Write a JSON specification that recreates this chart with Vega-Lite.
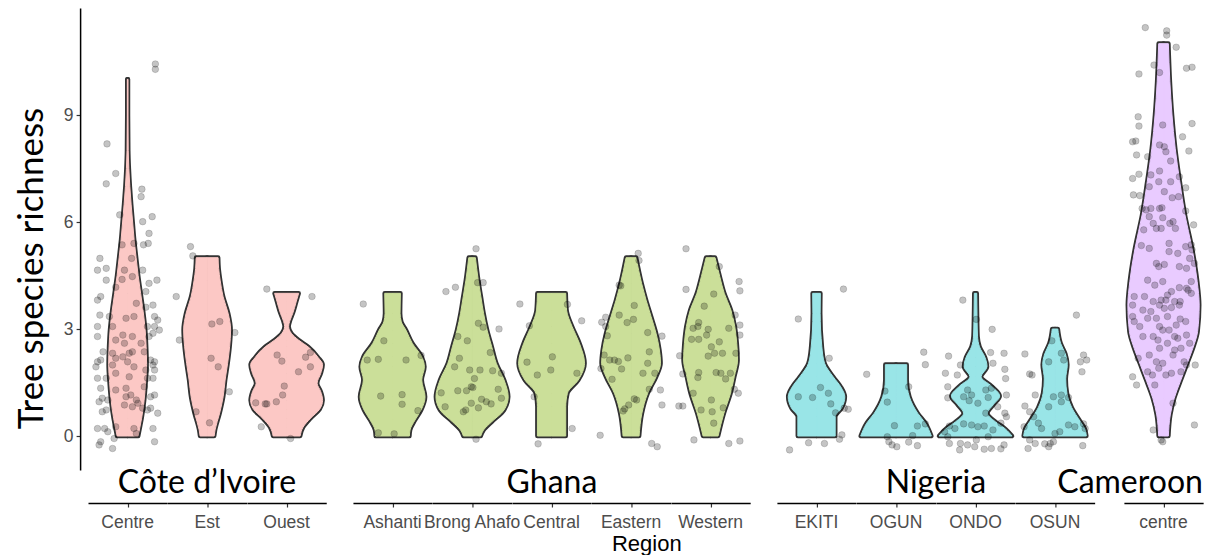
{
  "$schema": "https://vega.github.io/schema/vega-lite/v6.json",
  "padding": {"left": 14, "top": 8, "right": 0, "bottom": 0},
  "background": "white",
  "title": {"text": "Region", "orient": "bottom", "anchor": "middle", "font": "Liberation Sans", "fontSize": 22, "fontWeight": "normal", "color": "black", "dx": 38, "offset": 2},
  "config": {
    "view": {"stroke": null},
    "axis": {"grid": false, "domainColor": "black", "domainWidth": 1.5, "tickColor": "#333333", "tickWidth": 1.2, "tickSize": 4, "labelColor": "#4D4D4D", "labelFont": "Liberation Sans", "labelFontSize": 17.5},
    "header": {"labelOrient": "bottom", "titleOrient": "bottom", "labelFont": "Liberation Sans", "labelFontSize": 17.5, "labelColor": "#4D4D4D", "labelPadding": 6, "titleFont": "Lato", "titleFontSize": 32, "titleFontWeight": "normal", "titleColor": "black", "titlePadding": -74}
  },
  "spacing": 25.95,
  "datasets": {
    "d": [
      {"c":"Côte d’Ivoire","r":"Centre","y":0,"w":0.265},{"c":"Côte d’Ivoire","r":"Centre","y":0.25,"w":0.31},{"c":"Côte d’Ivoire","r":"Centre","y":0.5,"w":0.353},{"c":"Côte d’Ivoire","r":"Centre","y":1,"w":0.416},{"c":"Côte d’Ivoire","r":"Centre","y":1.5,"w":0.454},{"c":"Côte d’Ivoire","r":"Centre","y":2,"w":0.479},{"c":"Côte d’Ivoire","r":"Centre","y":2.5,"w":0.467},{"c":"Côte d’Ivoire","r":"Centre","y":3,"w":0.441},{"c":"Côte d’Ivoire","r":"Centre","y":3.5,"w":0.391},{"c":"Côte d’Ivoire","r":"Centre","y":4,"w":0.328},{"c":"Côte d’Ivoire","r":"Centre","y":4.5,"w":0.265},{"c":"Côte d’Ivoire","r":"Centre","y":5,"w":0.214},{"c":"Côte d’Ivoire","r":"Centre","y":5.5,"w":0.164},{"c":"Côte d’Ivoire","r":"Centre","y":6,"w":0.126},{"c":"Côte d’Ivoire","r":"Centre","y":6.5,"w":0.088},{"c":"Côte d’Ivoire","r":"Centre","y":7,"w":0.055},{"c":"Côte d’Ivoire","r":"Centre","y":7.5,"w":0.03},{"c":"Côte d’Ivoire","r":"Centre","y":8,"w":0.015},{"c":"Côte d’Ivoire","r":"Centre","y":9,"w":0.008},{"c":"Côte d’Ivoire","r":"Centre","y":10,"w":0.008},
      {"c":"Côte d’Ivoire","r":"Est","y":0,"w":0.177},{"c":"Côte d’Ivoire","r":"Est","y":0.17,"w":0.2},{"c":"Côte d’Ivoire","r":"Est","y":0.64,"w":0.315},{"c":"Côte d’Ivoire","r":"Est","y":1.1,"w":0.404},{"c":"Côte d’Ivoire","r":"Est","y":1.57,"w":0.454},{"c":"Côte d’Ivoire","r":"Est","y":2.04,"w":0.517},{"c":"Côte d’Ivoire","r":"Est","y":2.5,"w":0.567},{"c":"Côte d’Ivoire","r":"Est","y":2.97,"w":0.593},{"c":"Côte d’Ivoire","r":"Est","y":3.44,"w":0.53},{"c":"Côte d’Ivoire","r":"Est","y":3.9,"w":0.404},{"c":"Côte d’Ivoire","r":"Est","y":4.37,"w":0.328},{"c":"Côte d’Ivoire","r":"Est","y":4.7,"w":0.29},{"c":"Côte d’Ivoire","r":"Est","y":5,"w":0.277},
      {"c":"Côte d’Ivoire","r":"Ouest","y":0,"w":0.34},{"c":"Côte d’Ivoire","r":"Ouest","y":0.25,"w":0.416},{"c":"Côte d’Ivoire","r":"Ouest","y":0.5,"w":0.605},{"c":"Côte d’Ivoire","r":"Ouest","y":0.75,"w":0.832},{"c":"Côte d’Ivoire","r":"Ouest","y":1,"w":0.908},{"c":"Côte d’Ivoire","r":"Ouest","y":1.25,"w":0.858},{"c":"Côte d’Ivoire","r":"Ouest","y":1.48,"w":0.769},{"c":"Côte d’Ivoire","r":"Ouest","y":1.75,"w":0.858},{"c":"Côte d’Ivoire","r":"Ouest","y":2,"w":0.908},{"c":"Côte d’Ivoire","r":"Ouest","y":2.2,"w":0.794},{"c":"Côte d’Ivoire","r":"Ouest","y":2.5,"w":0.54},{"c":"Côte d’Ivoire","r":"Ouest","y":2.69,"w":0.3},{"c":"Côte d’Ivoire","r":"Ouest","y":2.88,"w":0.118},{"c":"Côte d’Ivoire","r":"Ouest","y":3.07,"w":0.05},{"c":"Côte d’Ivoire","r":"Ouest","y":3.25,"w":0.088},{"c":"Côte d’Ivoire","r":"Ouest","y":3.44,"w":0.155},{"c":"Côte d’Ivoire","r":"Ouest","y":3.76,"w":0.24},{"c":"Côte d’Ivoire","r":"Ouest","y":4,"w":0.303},
      {"c":"Ghana","r":"Ashanti","y":0,"w":0.424},{"c":"Ghana","r":"Ashanti","y":0.17,"w":0.441},{"c":"Ghana","r":"Ashanti","y":0.45,"w":0.567},{"c":"Ghana","r":"Ashanti","y":0.73,"w":0.72},{"c":"Ghana","r":"Ashanti","y":1.1,"w":0.82},{"c":"Ghana","r":"Ashanti","y":1.57,"w":0.736},{"c":"Ghana","r":"Ashanti","y":1.94,"w":0.803},{"c":"Ghana","r":"Ashanti","y":2.22,"w":0.736},{"c":"Ghana","r":"Ashanti","y":2.6,"w":0.496},{"c":"Ghana","r":"Ashanti","y":2.97,"w":0.336},{"c":"Ghana","r":"Ashanti","y":3.2,"w":0.22},{"c":"Ghana","r":"Ashanti","y":3.44,"w":0.189},{"c":"Ghana","r":"Ashanti","y":4,"w":0.198},
      {"c":"Ghana","r":"Brong Ahafo","y":0,"w":0.218},{"c":"Ghana","r":"Brong Ahafo","y":0.17,"w":0.29},{"c":"Ghana","r":"Brong Ahafo","y":0.4,"w":0.496},{"c":"Ghana","r":"Brong Ahafo","y":0.73,"w":0.807},{"c":"Ghana","r":"Brong Ahafo","y":1.1,"w":0.912},{"c":"Ghana","r":"Brong Ahafo","y":1.57,"w":0.807},{"c":"Ghana","r":"Brong Ahafo","y":2.04,"w":0.61},{"c":"Ghana","r":"Brong Ahafo","y":2.5,"w":0.496},{"c":"Ghana","r":"Brong Ahafo","y":2.97,"w":0.378},{"c":"Ghana","r":"Brong Ahafo","y":3.44,"w":0.29},{"c":"Ghana","r":"Brong Ahafo","y":3.9,"w":0.223},{"c":"Ghana","r":"Brong Ahafo","y":4.37,"w":0.155},{"c":"Ghana","r":"Brong Ahafo","y":5,"w":0.084},
      {"c":"Ghana","r":"Central","y":0,"w":0.357},{"c":"Ghana","r":"Central","y":0.82,"w":0.357},{"c":"Ghana","r":"Central","y":1.2,"w":0.399},{"c":"Ghana","r":"Central","y":1.57,"w":0.673},{"c":"Ghana","r":"Central","y":2.04,"w":0.832},{"c":"Ghana","r":"Central","y":2.6,"w":0.702},{"c":"Ghana","r":"Central","y":3.07,"w":0.517},{"c":"Ghana","r":"Central","y":3.53,"w":0.378},{"c":"Ghana","r":"Central","y":4,"w":0.357},
      {"c":"Ghana","r":"Eastern","y":0,"w":0.202},{"c":"Ghana","r":"Eastern","y":0.64,"w":0.273},{"c":"Ghana","r":"Eastern","y":1.2,"w":0.42},{"c":"Ghana","r":"Eastern","y":1.66,"w":0.63},{"c":"Ghana","r":"Eastern","y":2.04,"w":0.744},{"c":"Ghana","r":"Eastern","y":2.41,"w":0.715},{"c":"Ghana","r":"Eastern","y":2.88,"w":0.63},{"c":"Ghana","r":"Eastern","y":3.35,"w":0.504},{"c":"Ghana","r":"Eastern","y":3.81,"w":0.378},{"c":"Ghana","r":"Eastern","y":4.28,"w":0.265},{"c":"Ghana","r":"Eastern","y":5,"w":0.126},
      {"c":"Ghana","r":"Western","y":0,"w":0.189},{"c":"Ghana","r":"Western","y":0.64,"w":0.336},{"c":"Ghana","r":"Western","y":1.2,"w":0.504},{"c":"Ghana","r":"Western","y":1.66,"w":0.597},{"c":"Ghana","r":"Western","y":2.13,"w":0.681},{"c":"Ghana","r":"Western","y":2.6,"w":0.66},{"c":"Ghana","r":"Western","y":3.07,"w":0.61},{"c":"Ghana","r":"Western","y":3.53,"w":0.513},{"c":"Ghana","r":"Western","y":4,"w":0.345},{"c":"Ghana","r":"Western","y":4.47,"w":0.231},{"c":"Ghana","r":"Western","y":5,"w":0.113},
      {"c":"Nigeria","r":"EKITI","y":0,"w":0.471},{"c":"Nigeria","r":"EKITI","y":0.54,"w":0.471},{"c":"Nigeria","r":"EKITI","y":0.78,"w":0.63},{"c":"Nigeria","r":"EKITI","y":1.1,"w":0.714},{"c":"Nigeria","r":"EKITI","y":1.38,"w":0.61},{"c":"Nigeria","r":"EKITI","y":1.66,"w":0.42},{"c":"Nigeria","r":"EKITI","y":2.04,"w":0.202},{"c":"Nigeria","r":"EKITI","y":2.5,"w":0.134},{"c":"Nigeria","r":"EKITI","y":3.44,"w":0.092},{"c":"Nigeria","r":"EKITI","y":4,"w":0.097},
      {"c":"Nigeria","r":"OGUN","y":0,"w":0.891},{"c":"Nigeria","r":"OGUN","y":0.36,"w":0.74},{"c":"Nigeria","r":"OGUN","y":0.64,"w":0.546},{"c":"Nigeria","r":"OGUN","y":1.1,"w":0.336},{"c":"Nigeria","r":"OGUN","y":1.57,"w":0.269},{"c":"Nigeria","r":"OGUN","y":2,"w":0.269},
      {"c":"Nigeria","r":"ONDO","y":0,"w":0.92},{"c":"Nigeria","r":"ONDO","y":0.2,"w":0.75},{"c":"Nigeria","r":"ONDO","y":0.4,"w":0.5},{"c":"Nigeria","r":"ONDO","y":0.64,"w":0.3},{"c":"Nigeria","r":"ONDO","y":0.88,"w":0.45},{"c":"Nigeria","r":"ONDO","y":1.12,"w":0.61},{"c":"Nigeria","r":"ONDO","y":1.4,"w":0.4},{"c":"Nigeria","r":"ONDO","y":1.66,"w":0.14},{"c":"Nigeria","r":"ONDO","y":1.95,"w":0.29},{"c":"Nigeria","r":"ONDO","y":2.2,"w":0.24},{"c":"Nigeria","r":"ONDO","y":2.5,"w":0.1},{"c":"Nigeria","r":"ONDO","y":2.8,"w":0.05},{"c":"Nigeria","r":"ONDO","y":3.2,"w":0.04},{"c":"Nigeria","r":"ONDO","y":4,"w":0.03},
      {"c":"Nigeria","r":"OSUN","y":0,"w":0.79},{"c":"Nigeria","r":"OSUN","y":0.2,"w":0.75},{"c":"Nigeria","r":"OSUN","y":0.4,"w":0.64},{"c":"Nigeria","r":"OSUN","y":0.8,"w":0.42},{"c":"Nigeria","r":"OSUN","y":1.2,"w":0.3},{"c":"Nigeria","r":"OSUN","y":1.6,"w":0.27},{"c":"Nigeria","r":"OSUN","y":2,"w":0.31},{"c":"Nigeria","r":"OSUN","y":2.3,"w":0.26},{"c":"Nigeria","r":"OSUN","y":2.6,"w":0.14},{"c":"Nigeria","r":"OSUN","y":3,"w":0.07},
      {"c":"Cameroon","r":"centre","y":0,"w":0.122},{"c":"Cameroon","r":"centre","y":0.59,"w":0.17},{"c":"Cameroon","r":"centre","y":1.06,"w":0.27},{"c":"Cameroon","r":"centre","y":1.52,"w":0.42},{"c":"Cameroon","r":"centre","y":1.99,"w":0.58},{"c":"Cameroon","r":"centre","y":2.46,"w":0.74},{"c":"Cameroon","r":"centre","y":2.93,"w":0.86},{"c":"Cameroon","r":"centre","y":3.67,"w":0.9},{"c":"Cameroon","r":"centre","y":4.33,"w":0.85},{"c":"Cameroon","r":"centre","y":5.26,"w":0.72},{"c":"Cameroon","r":"centre","y":6.2,"w":0.54},{"c":"Cameroon","r":"centre","y":7.13,"w":0.41},{"c":"Cameroon","r":"centre","y":8.07,"w":0.294},{"c":"Cameroon","r":"centre","y":9,"w":0.214},{"c":"Cameroon","r":"centre","y":9.93,"w":0.16},{"c":"Cameroon","r":"centre","y":11,"w":0.122},

      {"c":"Côte d’Ivoire","r":"Centre","j":0.35,"y":10.43},{"c":"Côte d’Ivoire","r":"Centre","j":0.35,"y":10.28},{"c":"Côte d’Ivoire","r":"Centre","j":-0.26,"y":8.19},{"c":"Côte d’Ivoire","r":"Centre","j":-0.15,"y":7.36},{"c":"Côte d’Ivoire","r":"Centre","j":-0.27,"y":7.07},{"c":"Côte d’Ivoire","r":"Centre","j":0.18,"y":6.92},{"c":"Côte d’Ivoire","r":"Centre","j":0.17,"y":6.71},{"c":"Côte d’Ivoire","r":"Centre","j":-0.1,"y":6.2},{"c":"Côte d’Ivoire","r":"Centre","j":0.31,"y":6.15},{"c":"Côte d’Ivoire","r":"Centre","j":0.19,"y":6.01},{"c":"Côte d’Ivoire","r":"Centre","j":0.27,"y":5.68},{"c":"Côte d’Ivoire","r":"Centre","j":0.08,"y":5.4},{"c":"Côte d’Ivoire","r":"Centre","j":-0.07,"y":5.36},{"c":"Côte d’Ivoire","r":"Centre","j":0.2,"y":5.36},{"c":"Côte d’Ivoire","r":"Centre","j":0.26,"y":5.4},{"c":"Côte d’Ivoire","r":"Centre","j":-0.35,"y":4.98},{"c":"Côte d’Ivoire","r":"Centre","j":0.05,"y":4.98},{"c":"Côte d’Ivoire","r":"Centre","j":-0.38,"y":4.65},{"c":"Côte d’Ivoire","r":"Centre","j":-0.27,"y":4.7},{"c":"Côte d’Ivoire","r":"Centre","j":-0.04,"y":4.65},{"c":"Côte d’Ivoire","r":"Centre","j":0.19,"y":4.65},{"c":"Côte d’Ivoire","r":"Centre","j":-0.27,"y":4.37},{"c":"Côte d’Ivoire","r":"Centre","j":-0.07,"y":4.39},{"c":"Côte d’Ivoire","r":"Centre","j":0.06,"y":4.47},{"c":"Côte d’Ivoire","r":"Centre","j":0.37,"y":4.37},{"c":"Côte d’Ivoire","r":"Centre","j":0.27,"y":4.28},{"c":"Côte d’Ivoire","r":"Centre","j":-0.15,"y":4.17},{"c":"Côte d’Ivoire","r":"Centre","j":0.23,"y":4.05},{"c":"Côte d’Ivoire","r":"Centre","j":-0.38,"y":3.81},{"c":"Côte d’Ivoire","r":"Centre","j":-0.34,"y":3.91},{"c":"Côte d’Ivoire","r":"Centre","j":0.11,"y":3.72},{"c":"Côte d’Ivoire","r":"Centre","j":0.32,"y":3.67},{"c":"Côte d’Ivoire","r":"Centre","j":0.23,"y":3.61},{"c":"Côte d’Ivoire","r":"Centre","j":-0.35,"y":3.39},{"c":"Côte d’Ivoire","r":"Centre","j":-0.23,"y":3.35},{"c":"Côte d’Ivoire","r":"Centre","j":-0.02,"y":3.3},{"c":"Côte d’Ivoire","r":"Centre","j":0.08,"y":3.35},{"c":"Côte d’Ivoire","r":"Centre","j":0.34,"y":3.35},{"c":"Côte d’Ivoire","r":"Centre","j":0.38,"y":3.25},{"c":"Côte d’Ivoire","r":"Centre","j":-0.19,"y":3.07},{"c":"Côte d’Ivoire","r":"Centre","j":0.25,"y":3.07},{"c":"Côte d’Ivoire","r":"Centre","j":0.4,"y":2.97},{"c":"Côte d’Ivoire","r":"Centre","j":0.34,"y":3.07},{"c":"Côte d’Ivoire","r":"Centre","j":-0.38,"y":3.07},{"c":"Côte d’Ivoire","r":"Centre","j":-0.38,"y":2.79},{"c":"Côte d’Ivoire","r":"Centre","j":-0.06,"y":2.83},{"c":"Côte d’Ivoire","r":"Centre","j":0.06,"y":2.79},{"c":"Côte d’Ivoire","r":"Centre","j":0.27,"y":2.79},{"c":"Côte d’Ivoire","r":"Centre","j":0.32,"y":2.88},{"c":"Côte d’Ivoire","r":"Centre","j":-0.04,"y":2.6},{"c":"Côte d’Ivoire","r":"Centre","j":-0.15,"y":2.69},{"c":"Côte d’Ivoire","r":"Centre","j":0.17,"y":2.6},{"c":"Côte d’Ivoire","r":"Centre","j":-0.31,"y":2.36},{"c":"Côte d’Ivoire","r":"Centre","j":-0.19,"y":2.32},{"c":"Côte d’Ivoire","r":"Centre","j":0.02,"y":2.32},{"c":"Côte d’Ivoire","r":"Centre","j":0.06,"y":2.36},{"c":"Côte d’Ivoire","r":"Centre","j":0.21,"y":2.36},{"c":"Côte d’Ivoire","r":"Centre","j":-0.38,"y":2.08},{"c":"Côte d’Ivoire","r":"Centre","j":-0.34,"y":2.13},{"c":"Côte d’Ivoire","r":"Centre","j":-0.06,"y":2.22},{"c":"Côte d’Ivoire","r":"Centre","j":-0.15,"y":2.18},{"c":"Côte d’Ivoire","r":"Centre","j":0,"y":2.08},{"c":"Côte d’Ivoire","r":"Centre","j":0.29,"y":2.13},{"c":"Côte d’Ivoire","r":"Centre","j":0.34,"y":2.08},{"c":"Côte d’Ivoire","r":"Centre","j":-0.4,"y":1.94},{"c":"Côte d’Ivoire","r":"Centre","j":-0.19,"y":1.99},{"c":"Côte d’Ivoire","r":"Centre","j":0.08,"y":1.94},{"c":"Côte d’Ivoire","r":"Centre","j":0.32,"y":1.99},{"c":"Côte d’Ivoire","r":"Centre","j":-0.15,"y":1.76},{"c":"Côte d’Ivoire","r":"Centre","j":0.02,"y":1.66},{"c":"Côte d’Ivoire","r":"Centre","j":0.23,"y":1.85},{"c":"Côte d’Ivoire","r":"Centre","j":0.34,"y":1.85},{"c":"Côte d’Ivoire","r":"Centre","j":-0.38,"y":1.62},{"c":"Côte d’Ivoire","r":"Centre","j":-0.27,"y":1.62},{"c":"Côte d’Ivoire","r":"Centre","j":0.25,"y":1.62},{"c":"Côte d’Ivoire","r":"Centre","j":0.32,"y":1.62},{"c":"Côte d’Ivoire","r":"Centre","j":-0.34,"y":1.34},{"c":"Côte d’Ivoire","r":"Centre","j":-0.15,"y":1.29},{"c":"Côte d’Ivoire","r":"Centre","j":-0.02,"y":1.34},{"c":"Côte d’Ivoire","r":"Centre","j":0.21,"y":1.38},{"c":"Côte d’Ivoire","r":"Centre","j":-0.32,"y":1.06},{"c":"Côte d’Ivoire","r":"Centre","j":-0.02,"y":1.1},{"c":"Côte d’Ivoire","r":"Centre","j":0.04,"y":1.15},{"c":"Côte d’Ivoire","r":"Centre","j":0.11,"y":1.01},{"c":"Côte d’Ivoire","r":"Centre","j":0.29,"y":1.1},{"c":"Côte d’Ivoire","r":"Centre","j":0.34,"y":1.15},{"c":"Côte d’Ivoire","r":"Centre","j":-0.36,"y":0.96},{"c":"Côte d’Ivoire","r":"Centre","j":-0.25,"y":1.01},{"c":"Côte d’Ivoire","r":"Centre","j":0.13,"y":0.92},{"c":"Côte d’Ivoire","r":"Centre","j":-0.27,"y":0.73},{"c":"Côte d’Ivoire","r":"Centre","j":-0.04,"y":0.87},{"c":"Côte d’Ivoire","r":"Centre","j":0.06,"y":0.82},{"c":"Côte d’Ivoire","r":"Centre","j":0.19,"y":0.78},{"c":"Côte d’Ivoire","r":"Centre","j":0.29,"y":0.78},{"c":"Côte d’Ivoire","r":"Centre","j":0.25,"y":0.73},{"c":"Côte d’Ivoire","r":"Centre","j":0.38,"y":0.64},{"c":"Côte d’Ivoire","r":"Centre","j":-0.32,"y":0.68},{"c":"Côte d’Ivoire","r":"Centre","j":-0.38,"y":0.21},{"c":"Côte d’Ivoire","r":"Centre","j":-0.29,"y":0.21},{"c":"Côte d’Ivoire","r":"Centre","j":-0.15,"y":0.26},{"c":"Côte d’Ivoire","r":"Centre","j":0.08,"y":0.21},{"c":"Côte d’Ivoire","r":"Centre","j":0.32,"y":0.21},{"c":"Côte d’Ivoire","r":"Centre","j":-0.25,"y":0.12},{"c":"Côte d’Ivoire","r":"Centre","j":-0.17,"y":-0.07},{"c":"Côte d’Ivoire","r":"Centre","j":0.11,"y":0.07},{"c":"Côte d’Ivoire","r":"Centre","j":-0.36,"y":-0.25},{"c":"Côte d’Ivoire","r":"Centre","j":-0.34,"y":-0.16},{"c":"Côte d’Ivoire","r":"Centre","j":-0.19,"y":-0.35},{"c":"Côte d’Ivoire","r":"Centre","j":0.34,"y":-0.16},
      {"c":"Côte d’Ivoire","r":"Est","j":-0.21,"y":5.31},{"c":"Côte d’Ivoire","r":"Est","j":-0.18,"y":5.05},{"c":"Côte d’Ivoire","r":"Est","j":-0.39,"y":3.91},{"c":"Côte d’Ivoire","r":"Est","j":0.06,"y":3.14},{"c":"Côte d’Ivoire","r":"Est","j":0.16,"y":3.21},{"c":"Côte d’Ivoire","r":"Est","j":0.35,"y":2.9},{"c":"Côte d’Ivoire","r":"Est","j":-0.35,"y":2.69},{"c":"Côte d’Ivoire","r":"Est","j":0.05,"y":2.18},{"c":"Côte d’Ivoire","r":"Est","j":0.14,"y":1.94},{"c":"Côte d’Ivoire","r":"Est","j":0.28,"y":1.24},{"c":"Côte d’Ivoire","r":"Est","j":-0.14,"y":0.68},{"c":"Côte d’Ivoire","r":"Est","j":0.03,"y":0.37},
      {"c":"Côte d’Ivoire","r":"Ouest","j":-0.25,"y":4.12},{"c":"Côte d’Ivoire","r":"Ouest","j":0.32,"y":3.91},{"c":"Côte d’Ivoire","r":"Ouest","j":-0.12,"y":2.27},{"c":"Côte d’Ivoire","r":"Ouest","j":-0.06,"y":2.1},{"c":"Côte d’Ivoire","r":"Ouest","j":0.24,"y":2.21},{"c":"Côte d’Ivoire","r":"Ouest","j":0.3,"y":2.34},{"c":"Côte d’Ivoire","r":"Ouest","j":0.3,"y":1.94},{"c":"Côte d’Ivoire","r":"Ouest","j":0.15,"y":1.8},{"c":"Côte d’Ivoire","r":"Ouest","j":-0.03,"y":1.4},{"c":"Côte d’Ivoire","r":"Ouest","j":-0.05,"y":1.15},{"c":"Côte d’Ivoire","r":"Ouest","j":-0.13,"y":0.96},{"c":"Côte d’Ivoire","r":"Ouest","j":-0.39,"y":0.93},{"c":"Côte d’Ivoire","r":"Ouest","j":-0.27,"y":0.9},{"c":"Côte d’Ivoire","r":"Ouest","j":-0.25,"y":0.9},{"c":"Côte d’Ivoire","r":"Ouest","j":-0.32,"y":0.26},{"c":"Côte d’Ivoire","r":"Ouest","j":0.05,"y":-0.07},
      {"c":"Ghana","r":"Ashanti","j":-0.37,"y":3.7},{"c":"Ghana","r":"Ashanti","j":-0.11,"y":2.67},{"c":"Ghana","r":"Ashanti","j":-0.32,"y":2.13},{"c":"Ghana","r":"Ashanti","j":-0.18,"y":2.15},{"c":"Ghana","r":"Ashanti","j":0.17,"y":2.13},{"c":"Ghana","r":"Ashanti","j":0.36,"y":2.26},{"c":"Ghana","r":"Ashanti","j":-0.15,"y":1.12},{"c":"Ghana","r":"Ashanti","j":0.12,"y":1.16},{"c":"Ghana","r":"Ashanti","j":0.12,"y":0.89},{"c":"Ghana","r":"Ashanti","j":0.32,"y":0.71},{"c":"Ghana","r":"Ashanti","j":-0.18,"y":0.09},{"c":"Ghana","r":"Ashanti","j":0.02,"y":0.06},
      {"c":"Ghana","r":"Brong Ahafo","j":0.05,"y":5.25},{"c":"Ghana","r":"Brong Ahafo","j":-0.33,"y":4.05},{"c":"Ghana","r":"Brong Ahafo","j":-0.21,"y":4.17},{"c":"Ghana","r":"Brong Ahafo","j":0.07,"y":4.3},{"c":"Ghana","r":"Brong Ahafo","j":0.14,"y":4.3},{"c":"Ghana","r":"Brong Ahafo","j":0.34,"y":3.0},{"c":"Ghana","r":"Brong Ahafo","j":0.08,"y":3.16},{"c":"Ghana","r":"Brong Ahafo","j":0.14,"y":3.05},{"c":"Ghana","r":"Brong Ahafo","j":-0.18,"y":2.79},{"c":"Ghana","r":"Brong Ahafo","j":-0.06,"y":2.67},{"c":"Ghana","r":"Brong Ahafo","j":0.23,"y":2.34},{"c":"Ghana","r":"Brong Ahafo","j":-0.16,"y":2.18},{"c":"Ghana","r":"Brong Ahafo","j":-0.22,"y":1.94},{"c":"Ghana","r":"Brong Ahafo","j":-0.03,"y":1.85},{"c":"Ghana","r":"Brong Ahafo","j":0.1,"y":1.85},{"c":"Ghana","r":"Brong Ahafo","j":0.03,"y":1.61},{"c":"Ghana","r":"Brong Ahafo","j":0.26,"y":1.83},{"c":"Ghana","r":"Brong Ahafo","j":0.37,"y":1.76},{"c":"Ghana","r":"Brong Ahafo","j":-0.01,"y":1.38},{"c":"Ghana","r":"Brong Ahafo","j":0.01,"y":1.36},{"c":"Ghana","r":"Brong Ahafo","j":-0.18,"y":1.27},{"c":"Ghana","r":"Brong Ahafo","j":-0.07,"y":1.27},{"c":"Ghana","r":"Brong Ahafo","j":-0.39,"y":1.21},{"c":"Ghana","r":"Brong Ahafo","j":0.33,"y":1.31},{"c":"Ghana","r":"Brong Ahafo","j":0.12,"y":1.03},{"c":"Ghana","r":"Brong Ahafo","j":-0.01,"y":0.92},{"c":"Ghana","r":"Brong Ahafo","j":0.18,"y":0.96},{"c":"Ghana","r":"Brong Ahafo","j":0.24,"y":0.9},{"c":"Ghana","r":"Brong Ahafo","j":0.08,"y":0.79},{"c":"Ghana","r":"Brong Ahafo","j":-0.34,"y":0.82},{"c":"Ghana","r":"Brong Ahafo","j":-0.11,"y":0.68},{"c":"Ghana","r":"Brong Ahafo","j":-0.08,"y":0.73},{"c":"Ghana","r":"Brong Ahafo","j":0.37,"y":1.06},{"c":"Ghana","r":"Brong Ahafo","j":0.05,"y":-0.09},
      {"c":"Ghana","r":"Central","j":-0.4,"y":3.7},{"c":"Ghana","r":"Central","j":0.2,"y":3.69},{"c":"Ghana","r":"Central","j":0.38,"y":3.23},{"c":"Ghana","r":"Central","j":-0.28,"y":3.09},{"c":"Ghana","r":"Central","j":0.01,"y":2.22},{"c":"Ghana","r":"Central","j":-0.31,"y":2.07},{"c":"Ghana","r":"Central","j":-0.01,"y":1.85},{"c":"Ghana","r":"Central","j":-0.18,"y":1.71},{"c":"Ghana","r":"Central","j":0.32,"y":1.76},{"c":"Ghana","r":"Central","j":-0.22,"y":1.1},{"c":"Ghana","r":"Central","j":0.26,"y":0.21},{"c":"Ghana","r":"Central","j":-0.17,"y":-0.22},
      {"c":"Ghana","r":"Eastern","j":0.09,"y":5.12},{"c":"Ghana","r":"Eastern","j":0.1,"y":4.92},{"c":"Ghana","r":"Eastern","j":-0.15,"y":4.23},{"c":"Ghana","r":"Eastern","j":-0.13,"y":4.21},{"c":"Ghana","r":"Eastern","j":0.04,"y":3.66},{"c":"Ghana","r":"Eastern","j":-0.15,"y":3.39},{"c":"Ghana","r":"Eastern","j":-0.37,"y":3.19},{"c":"Ghana","r":"Eastern","j":-0.32,"y":3.33},{"c":"Ghana","r":"Eastern","j":-0.32,"y":3.07},{"c":"Ghana","r":"Eastern","j":-0.05,"y":3.18},{"c":"Ghana","r":"Eastern","j":0.03,"y":3.27},{"c":"Ghana","r":"Eastern","j":-0.3,"y":2.81},{"c":"Ghana","r":"Eastern","j":0.39,"y":2.8},{"c":"Ghana","r":"Eastern","j":0.21,"y":2.9},{"c":"Ghana","r":"Eastern","j":0.23,"y":2.36},{"c":"Ghana","r":"Eastern","j":0.21,"y":2.04},{"c":"Ghana","r":"Eastern","j":-0.34,"y":2.27},{"c":"Ghana","r":"Eastern","j":-0.27,"y":2.13},{"c":"Ghana","r":"Eastern","j":-0.21,"y":2.13},{"c":"Ghana","r":"Eastern","j":-0.16,"y":2.09},{"c":"Ghana","r":"Eastern","j":-0.04,"y":2.19},{"c":"Ghana","r":"Eastern","j":-0.38,"y":1.89},{"c":"Ghana","r":"Eastern","j":-0.12,"y":1.88},{"c":"Ghana","r":"Eastern","j":0.15,"y":1.76},{"c":"Ghana","r":"Eastern","j":0.3,"y":1.76},{"c":"Ghana","r":"Eastern","j":-0.24,"y":1.59},{"c":"Ghana","r":"Eastern","j":0.23,"y":1.31},{"c":"Ghana","r":"Eastern","j":0.37,"y":1.29},{"c":"Ghana","r":"Eastern","j":0.04,"y":1.04},{"c":"Ghana","r":"Eastern","j":0.07,"y":1.01},{"c":"Ghana","r":"Eastern","j":-0.03,"y":0.87},{"c":"Ghana","r":"Eastern","j":-0.08,"y":0.76},{"c":"Ghana","r":"Eastern","j":-0.1,"y":0.7},{"c":"Ghana","r":"Eastern","j":0.39,"y":0.87},{"c":"Ghana","r":"Eastern","j":-0.39,"y":0.02},{"c":"Ghana","r":"Eastern","j":0.26,"y":-0.21},{"c":"Ghana","r":"Eastern","j":0.33,"y":-0.3},
      {"c":"Ghana","r":"Western","j":-0.31,"y":5.25},{"c":"Ghana","r":"Western","j":0.11,"y":4.75},{"c":"Ghana","r":"Western","j":0.36,"y":4.33},{"c":"Ghana","r":"Western","j":0.37,"y":4.07},{"c":"Ghana","r":"Western","j":-0.31,"y":4.11},{"c":"Ghana","r":"Western","j":0.04,"y":3.98},{"c":"Ghana","r":"Western","j":-0.08,"y":3.64},{"c":"Ghana","r":"Western","j":0.31,"y":3.39},{"c":"Ghana","r":"Western","j":-0.15,"y":3.18},{"c":"Ghana","r":"Western","j":-0.22,"y":3.02},{"c":"Ghana","r":"Western","j":-0.16,"y":3.07},{"c":"Ghana","r":"Western","j":-0.03,"y":2.99},{"c":"Ghana","r":"Western","j":-0.05,"y":2.83},{"c":"Ghana","r":"Western","j":0.23,"y":3.02},{"c":"Ghana","r":"Western","j":0.37,"y":3.11},{"c":"Ghana","r":"Western","j":0.37,"y":2.83},{"c":"Ghana","r":"Western","j":-0.24,"y":2.71},{"c":"Ghana","r":"Western","j":-0.15,"y":2.71},{"c":"Ghana","r":"Western","j":0.11,"y":2.64},{"c":"Ghana","r":"Western","j":0.01,"y":2.5},{"c":"Ghana","r":"Western","j":-0.39,"y":2.25},{"c":"Ghana","r":"Western","j":-0.03,"y":2.24},{"c":"Ghana","r":"Western","j":0.05,"y":2.32},{"c":"Ghana","r":"Western","j":0.15,"y":2.32},{"c":"Ghana","r":"Western","j":0.32,"y":2.32},{"c":"Ghana","r":"Western","j":-0.35,"y":1.74},{"c":"Ghana","r":"Western","j":-0.15,"y":1.78},{"c":"Ghana","r":"Western","j":-0.16,"y":1.64},{"c":"Ghana","r":"Western","j":0.07,"y":1.78},{"c":"Ghana","r":"Western","j":0.13,"y":1.76},{"c":"Ghana","r":"Western","j":0.25,"y":1.76},{"c":"Ghana","r":"Western","j":0.19,"y":1.6},{"c":"Ghana","r":"Western","j":0.3,"y":1.31},{"c":"Ghana","r":"Western","j":0.35,"y":1.2},{"c":"Ghana","r":"Western","j":-0.4,"y":0.84},{"c":"Ghana","r":"Western","j":-0.35,"y":0.84},{"c":"Ghana","r":"Western","j":-0.22,"y":1.2},{"c":"Ghana","r":"Western","j":0.01,"y":1.01},{"c":"Ghana","r":"Western","j":0.16,"y":0.79},{"c":"Ghana","r":"Western","j":-0.12,"y":0.73},{"c":"Ghana","r":"Western","j":0.02,"y":0.68},{"c":"Ghana","r":"Western","j":0.04,"y":0.36},{"c":"Ghana","r":"Western","j":-0.21,"y":-0.11},{"c":"Ghana","r":"Western","j":0.23,"y":-0.21},{"c":"Ghana","r":"Western","j":0.37,"y":-0.14},
      {"c":"Nigeria","r":"EKITI","j":0.34,"y":4.12},{"c":"Nigeria","r":"EKITI","j":-0.23,"y":3.28},{"c":"Nigeria","r":"EKITI","j":0.16,"y":2.18},{"c":"Nigeria","r":"EKITI","j":0.05,"y":1.36},{"c":"Nigeria","r":"EKITI","j":0.15,"y":1.2},{"c":"Nigeria","r":"EKITI","j":-0.23,"y":1.1},{"c":"Nigeria","r":"EKITI","j":-0.05,"y":1.08},{"c":"Nigeria","r":"EKITI","j":0.18,"y":0.9},{"c":"Nigeria","r":"EKITI","j":0.24,"y":0.65},{"c":"Nigeria","r":"EKITI","j":0.35,"y":0.78},{"c":"Nigeria","r":"EKITI","j":0.4,"y":0.75},{"c":"Nigeria","r":"EKITI","j":0.32,"y":0.03},{"c":"Nigeria","r":"EKITI","j":0.29,"y":-0.09},{"c":"Nigeria","r":"EKITI","j":-0.1,"y":-0.19},{"c":"Nigeria","r":"EKITI","j":0.1,"y":-0.21},{"c":"Nigeria","r":"EKITI","j":-0.34,"y":-0.39},
      {"c":"Nigeria","r":"OGUN","j":0.35,"y":2.35},{"c":"Nigeria","r":"OGUN","j":0.37,"y":2.0},{"c":"Nigeria","r":"OGUN","j":-0.37,"y":1.73},{"c":"Nigeria","r":"OGUN","j":0.16,"y":1.38},{"c":"Nigeria","r":"OGUN","j":-0.14,"y":1.26},{"c":"Nigeria","r":"OGUN","j":-0.11,"y":0.95},{"c":"Nigeria","r":"OGUN","j":-0.02,"y":0.29},{"c":"Nigeria","r":"OGUN","j":0.27,"y":0.28},{"c":"Nigeria","r":"OGUN","j":0.37,"y":0.34},{"c":"Nigeria","r":"OGUN","j":-0.11,"y":-0.02},{"c":"Nigeria","r":"OGUN","j":-0.09,"y":-0.16},{"c":"Nigeria","r":"OGUN","j":0.01,"y":-0.3},{"c":"Nigeria","r":"OGUN","j":-0.05,"y":-0.25},{"c":"Nigeria","r":"OGUN","j":0.21,"y":0.01},{"c":"Nigeria","r":"OGUN","j":0.16,"y":-0.17},{"c":"Nigeria","r":"OGUN","j":0.27,"y":-0.27},
      {"c":"Nigeria","r":"ONDO","j":-0.16,"y":3.81},{"c":"Nigeria","r":"ONDO","j":0.01,"y":3.27},{"c":"Nigeria","r":"ONDO","j":0.21,"y":2.99},{"c":"Nigeria","r":"ONDO","j":-0.34,"y":2.24},{"c":"Nigeria","r":"ONDO","j":-0.19,"y":1.99},{"c":"Nigeria","r":"ONDO","j":0.19,"y":2.34},{"c":"Nigeria","r":"ONDO","j":0.22,"y":2.04},{"c":"Nigeria","r":"ONDO","j":0.36,"y":2.32},{"c":"Nigeria","r":"ONDO","j":0.37,"y":1.87},{"c":"Nigeria","r":"ONDO","j":0.38,"y":1.61},{"c":"Nigeria","r":"ONDO","j":-0.38,"y":1.76},{"c":"Nigeria","r":"ONDO","j":-0.23,"y":1.71},{"c":"Nigeria","r":"ONDO","j":-0.35,"y":1.38},{"c":"Nigeria","r":"ONDO","j":-0.35,"y":1.07},{"c":"Nigeria","r":"ONDO","j":-0.1,"y":1.29},{"c":"Nigeria","r":"ONDO","j":-0.05,"y":1.15},{"c":"Nigeria","r":"ONDO","j":-0.08,"y":0.99},{"c":"Nigeria","r":"ONDO","j":-0.15,"y":1.1},{"c":"Nigeria","r":"ONDO","j":0.03,"y":0.92},{"c":"Nigeria","r":"ONDO","j":0.13,"y":1.29},{"c":"Nigeria","r":"ONDO","j":0.16,"y":1.08},{"c":"Nigeria","r":"ONDO","j":0.2,"y":1.34},{"c":"Nigeria","r":"ONDO","j":0.39,"y":1.15},{"c":"Nigeria","r":"ONDO","j":0.28,"y":0.82},{"c":"Nigeria","r":"ONDO","j":0.37,"y":0.64},{"c":"Nigeria","r":"ONDO","j":0.39,"y":0.54},{"c":"Nigeria","r":"ONDO","j":0.13,"y":0.64},{"c":"Nigeria","r":"ONDO","j":-0.33,"y":0.28},{"c":"Nigeria","r":"ONDO","j":-0.26,"y":0.21},{"c":"Nigeria","r":"ONDO","j":-0.15,"y":0.34},{"c":"Nigeria","r":"ONDO","j":-0.05,"y":0.31},{"c":"Nigeria","r":"ONDO","j":0.03,"y":0.26},{"c":"Nigeria","r":"ONDO","j":0.11,"y":0.28},{"c":"Nigeria","r":"ONDO","j":0.22,"y":0.17},{"c":"Nigeria","r":"ONDO","j":0.32,"y":0.36},{"c":"Nigeria","r":"ONDO","j":-0.39,"y":0.12},{"c":"Nigeria","r":"ONDO","j":-0.35,"y":-0.02},{"c":"Nigeria","r":"ONDO","j":-0.19,"y":-0.21},{"c":"Nigeria","r":"ONDO","j":-0.1,"y":-0.25},{"c":"Nigeria","r":"ONDO","j":-0.01,"y":-0.3},{"c":"Nigeria","r":"ONDO","j":0.11,"y":-0.37},{"c":"Nigeria","r":"ONDO","j":0.2,"y":-0.35},{"c":"Nigeria","r":"ONDO","j":0.32,"y":-0.36},{"c":"Nigeria","r":"ONDO","j":0.36,"y":-0.25},{"c":"Nigeria","r":"ONDO","j":-0.33,"y":-0.21},{"c":"Nigeria","r":"ONDO","j":-0.2,"y":-0.39},{"c":"Nigeria","r":"ONDO","j":0.01,"y":-0.11},{"c":"Nigeria","r":"ONDO","j":0.16,"y":-0.02},
      {"c":"Nigeria","r":"OSUN","j":0.27,"y":3.39},{"c":"Nigeria","r":"OSUN","j":-0.04,"y":2.67},{"c":"Nigeria","r":"OSUN","j":-0.38,"y":2.3},{"c":"Nigeria","r":"OSUN","j":0.08,"y":2.32},{"c":"Nigeria","r":"OSUN","j":0.36,"y":2.27},{"c":"Nigeria","r":"OSUN","j":0.4,"y":2.13},{"c":"Nigeria","r":"OSUN","j":0.32,"y":2.08},{"c":"Nigeria","r":"OSUN","j":0.34,"y":1.8},{"c":"Nigeria","r":"OSUN","j":-0.32,"y":1.74},{"c":"Nigeria","r":"OSUN","j":-0.29,"y":1.71},{"c":"Nigeria","r":"OSUN","j":-0.08,"y":2.08},{"c":"Nigeria","r":"OSUN","j":0.11,"y":2.13},{"c":"Nigeria","r":"OSUN","j":-0.25,"y":1.15},{"c":"Nigeria","r":"OSUN","j":-0.02,"y":1.1},{"c":"Nigeria","r":"OSUN","j":0.08,"y":1.15},{"c":"Nigeria","r":"OSUN","j":0.17,"y":1.08},{"c":"Nigeria","r":"OSUN","j":-0.38,"y":0.84},{"c":"Nigeria","r":"OSUN","j":-0.32,"y":0.68},{"c":"Nigeria","r":"OSUN","j":-0.08,"y":0.82},{"c":"Nigeria","r":"OSUN","j":0.08,"y":0.96},{"c":"Nigeria","r":"OSUN","j":-0.27,"y":0.54},{"c":"Nigeria","r":"OSUN","j":-0.39,"y":0.26},{"c":"Nigeria","r":"OSUN","j":-0.21,"y":0.36},{"c":"Nigeria","r":"OSUN","j":-0.17,"y":0.21},{"c":"Nigeria","r":"OSUN","j":0.17,"y":0.31},{"c":"Nigeria","r":"OSUN","j":0.25,"y":0.26},{"c":"Nigeria","r":"OSUN","j":0.36,"y":0.34},{"c":"Nigeria","r":"OSUN","j":0.38,"y":0.21},{"c":"Nigeria","r":"OSUN","j":0,"y":0.07},{"c":"Nigeria","r":"OSUN","j":0.06,"y":0.12},{"c":"Nigeria","r":"OSUN","j":-0.32,"y":-0.11},{"c":"Nigeria","r":"OSUN","j":-0.25,"y":-0.21},{"c":"Nigeria","r":"OSUN","j":-0.13,"y":-0.22},{"c":"Nigeria","r":"OSUN","j":-0.06,"y":-0.21},{"c":"Nigeria","r":"OSUN","j":-0.08,"y":-0.3},{"c":"Nigeria","r":"OSUN","j":-0.02,"y":-0.16},{"c":"Nigeria","r":"OSUN","j":-0.34,"y":-0.35},{"c":"Nigeria","r":"OSUN","j":0.35,"y":-0.27},
      {"c":"Cameroon","r":"centre","j":-0.23,"y":11.45},{"c":"Cameroon","r":"centre","j":0.04,"y":11.36},{"c":"Cameroon","r":"centre","j":0.04,"y":11.24},{"c":"Cameroon","r":"centre","j":0.16,"y":10.9},{"c":"Cameroon","r":"centre","j":-0.12,"y":10.4},{"c":"Cameroon","r":"centre","j":-0.31,"y":10.15},{"c":"Cameroon","r":"centre","j":-0.05,"y":10.19},{"c":"Cameroon","r":"centre","j":0.29,"y":10.31},{"c":"Cameroon","r":"centre","j":0.36,"y":10.34},{"c":"Cameroon","r":"centre","j":-0.32,"y":8.95},{"c":"Cameroon","r":"centre","j":-0.31,"y":8.69},{"c":"Cameroon","r":"centre","j":0.36,"y":8.76},{"c":"Cameroon","r":"centre","j":-0.39,"y":8.25},{"c":"Cameroon","r":"centre","j":-0.35,"y":8.27},{"c":"Cameroon","r":"centre","j":-0.01,"y":8.72},{"c":"Cameroon","r":"centre","j":0.24,"y":8.39},{"c":"Cameroon","r":"centre","j":-0.34,"y":7.88},{"c":"Cameroon","r":"centre","j":0.32,"y":7.99},{"c":"Cameroon","r":"centre","j":-0.05,"y":8.16},{"c":"Cameroon","r":"centre","j":0.01,"y":8.11},{"c":"Cameroon","r":"centre","j":0.03,"y":7.97},{"c":"Cameroon","r":"centre","j":-0.2,"y":7.83},{"c":"Cameroon","r":"centre","j":0.09,"y":7.71},{"c":"Cameroon","r":"centre","j":-0.16,"y":7.32},{"c":"Cameroon","r":"centre","j":-0.05,"y":7.43},{"c":"Cameroon","r":"centre","j":-0.39,"y":7.22},{"c":"Cameroon","r":"centre","j":-0.31,"y":7.34},{"c":"Cameroon","r":"centre","j":-0.06,"y":7.13},{"c":"Cameroon","r":"centre","j":0.09,"y":7.13},{"c":"Cameroon","r":"centre","j":0.2,"y":7.27},{"c":"Cameroon","r":"centre","j":-0.18,"y":6.99},{"c":"Cameroon","r":"centre","j":0.28,"y":6.96},{"c":"Cameroon","r":"centre","j":-0.38,"y":6.76},{"c":"Cameroon","r":"centre","j":-0.3,"y":6.74},{"c":"Cameroon","r":"centre","j":0.01,"y":6.85},{"c":"Cameroon","r":"centre","j":0.11,"y":6.68},{"c":"Cameroon","r":"centre","j":0.19,"y":6.71},{"c":"Cameroon","r":"centre","j":-0.27,"y":6.38},{"c":"Cameroon","r":"centre","j":-0.22,"y":6.34},{"c":"Cameroon","r":"centre","j":-0.16,"y":6.38},{"c":"Cameroon","r":"centre","j":-0.05,"y":6.38},{"c":"Cameroon","r":"centre","j":-0.02,"y":6.4},{"c":"Cameroon","r":"centre","j":0.28,"y":6.31},{"c":"Cameroon","r":"centre","j":-0.18,"y":6.15},{"c":"Cameroon","r":"centre","j":-0.13,"y":5.96},{"c":"Cameroon","r":"centre","j":-0.03,"y":5.82},{"c":"Cameroon","r":"centre","j":-0.01,"y":6.12},{"c":"Cameroon","r":"centre","j":0.08,"y":5.96},{"c":"Cameroon","r":"centre","j":0.12,"y":6.01},{"c":"Cameroon","r":"centre","j":0.15,"y":5.82},{"c":"Cameroon","r":"centre","j":-0.09,"y":5.82},{"c":"Cameroon","r":"centre","j":-0.25,"y":5.78},{"c":"Cameroon","r":"centre","j":0.38,"y":5.92},{"c":"Cameroon","r":"centre","j":-0.28,"y":5.34},{"c":"Cameroon","r":"centre","j":-0.18,"y":5.26},{"c":"Cameroon","r":"centre","j":0.07,"y":5.17},{"c":"Cameroon","r":"centre","j":0.18,"y":5.12},{"c":"Cameroon","r":"centre","j":0.07,"y":5.4},{"c":"Cameroon","r":"centre","j":0.28,"y":5.31},{"c":"Cameroon","r":"centre","j":0.35,"y":5.36},{"c":"Cameroon","r":"centre","j":0.36,"y":5.22},{"c":"Cameroon","r":"centre","j":-0.09,"y":4.84},{"c":"Cameroon","r":"centre","j":-0.06,"y":4.75},{"c":"Cameroon","r":"centre","j":0.01,"y":4.81},{"c":"Cameroon","r":"centre","j":0.2,"y":4.75},{"c":"Cameroon","r":"centre","j":0.29,"y":4.7},{"c":"Cameroon","r":"centre","j":0.33,"y":4.98},{"c":"Cameroon","r":"centre","j":0.39,"y":4.84},{"c":"Cameroon","r":"centre","j":-0.2,"y":4.37},{"c":"Cameroon","r":"centre","j":-0.01,"y":4.33},{"c":"Cameroon","r":"centre","j":-0.11,"y":4.23},{"c":"Cameroon","r":"centre","j":0.35,"y":4.33},{"c":"Cameroon","r":"centre","j":0.2,"y":4.16},{"c":"Cameroon","r":"centre","j":0.29,"y":4.14},{"c":"Cameroon","r":"centre","j":0.1,"y":4.05},{"c":"Cameroon","r":"centre","j":-0.03,"y":3.81},{"c":"Cameroon","r":"centre","j":0.03,"y":3.81},{"c":"Cameroon","r":"centre","j":0.05,"y":3.95},{"c":"Cameroon","r":"centre","j":0.14,"y":3.77},{"c":"Cameroon","r":"centre","j":-0.24,"y":3.91},{"c":"Cameroon","r":"centre","j":-0.13,"y":3.77},{"c":"Cameroon","r":"centre","j":-0.05,"y":3.67},{"c":"Cameroon","r":"centre","j":0.1,"y":3.6},{"c":"Cameroon","r":"centre","j":0.2,"y":3.67},{"c":"Cameroon","r":"centre","j":-0.37,"y":3.91},{"c":"Cameroon","r":"centre","j":-0.39,"y":3.67},{"c":"Cameroon","r":"centre","j":0.31,"y":4.09},{"c":"Cameroon","r":"centre","j":0.35,"y":4.0},{"c":"Cameroon","r":"centre","j":-0.26,"y":3.53},{"c":"Cameroon","r":"centre","j":-0.16,"y":3.49},{"c":"Cameroon","r":"centre","j":0.01,"y":3.58},{"c":"Cameroon","r":"centre","j":0.21,"y":3.77},{"c":"Cameroon","r":"centre","j":-0.39,"y":3.35},{"c":"Cameroon","r":"centre","j":-0.2,"y":3.3},{"c":"Cameroon","r":"centre","j":-0.09,"y":3.3},{"c":"Cameroon","r":"centre","j":0.05,"y":3.35},{"c":"Cameroon","r":"centre","j":0.21,"y":3.28},{"c":"Cameroon","r":"centre","j":0.28,"y":3.21},{"c":"Cameroon","r":"centre","j":0.16,"y":3.11},{"c":"Cameroon","r":"centre","j":-0.37,"y":3.21},{"c":"Cameroon","r":"centre","j":-0.3,"y":3.07},{"c":"Cameroon","r":"centre","j":-0.05,"y":3.07},{"c":"Cameroon","r":"centre","j":-0.01,"y":2.97},{"c":"Cameroon","r":"centre","j":0.07,"y":2.97},{"c":"Cameroon","r":"centre","j":0.14,"y":2.79},{"c":"Cameroon","r":"centre","j":0.18,"y":2.74},{"c":"Cameroon","r":"centre","j":0.29,"y":2.83},{"c":"Cameroon","r":"centre","j":-0.26,"y":2.79},{"c":"Cameroon","r":"centre","j":-0.13,"y":2.79},{"c":"Cameroon","r":"centre","j":-0.07,"y":2.69},{"c":"Cameroon","r":"centre","j":0.05,"y":2.6},{"c":"Cameroon","r":"centre","j":0.33,"y":2.6},{"c":"Cameroon","r":"centre","j":0.22,"y":2.46},{"c":"Cameroon","r":"centre","j":0.14,"y":2.41},{"c":"Cameroon","r":"centre","j":-0.05,"y":2.46},{"c":"Cameroon","r":"centre","j":-0.32,"y":2.18},{"c":"Cameroon","r":"centre","j":-0.18,"y":2.27},{"c":"Cameroon","r":"centre","j":-0.09,"y":2.08},{"c":"Cameroon","r":"centre","j":-0.01,"y":2.04},{"c":"Cameroon","r":"centre","j":0.12,"y":2.27},{"c":"Cameroon","r":"centre","j":0.26,"y":2.08},{"c":"Cameroon","r":"centre","j":0.29,"y":1.99},{"c":"Cameroon","r":"centre","j":-0.2,"y":1.8},{"c":"Cameroon","r":"centre","j":-0.14,"y":1.71},{"c":"Cameroon","r":"centre","j":-0.06,"y":1.9},{"c":"Cameroon","r":"centre","j":0.1,"y":1.76},{"c":"Cameroon","r":"centre","j":0.22,"y":1.8},{"c":"Cameroon","r":"centre","j":-0.39,"y":1.66},{"c":"Cameroon","r":"centre","j":-0.34,"y":1.43},{"c":"Cameroon","r":"centre","j":-0.11,"y":1.43},{"c":"Cameroon","r":"centre","j":0.03,"y":1.71},{"c":"Cameroon","r":"centre","j":0.4,"y":1.99},{"c":"Cameroon","r":"centre","j":0.12,"y":0.92},{"c":"Cameroon","r":"centre","j":-0.13,"y":0.17},{"c":"Cameroon","r":"centre","j":0.39,"y":0.31},{"c":"Cameroon","r":"centre","j":-0.03,"y":-0.11},{"c":"Cameroon","r":"centre","j":-0.01,"y":-0.16}
    ]
  },
  "hconcat": [
    {
      "data": {"name": "d"},
      "transform": [{"filter": {"field": "c", "equal": "Côte d’Ivoire"}}],
      "facet": {"column": {"field": "r", "type": "nominal", "title": "Côte d’Ivoire"}},
      "spacing": -0.5,
      "resolve": {"scale": {"x": "independent"}},
      "spec": {
        "width": 79.24, "height": 462,
        "resolve": {"scale": {"x": "independent"}},
        "layer": [
          {"transform": [{"filter": {"field": "w", "valid": true}}],
           "mark": {"type": "area", "orient": "horizontal", "interpolate": "monotone", "fill": "#FCC8C5", "stroke": "#333333", "strokeWidth": 4.6, "strokeJoin": "round"},
           "encoding": {
             "y": {"field": "y", "type": "quantitative", "scale": {"domain": [-0.953, 12.0], "nice": false, "zero": false},
                   "axis": {"values": [0, 3, 6, 9], "title": "Tree species richness", "titleFont": "Lato", "titleFontSize": 35, "titleFontWeight": "normal", "titleColor": "black", "titlePadding": 14, "titleY": 260, "offset": 7.9, "labelPadding": 3}},
             "x": {"field": "w", "type": "quantitative", "scale": {"domain": [-1, 1], "reverse": true}, "axis": null}
           }},
          {"transform": [{"filter": {"field": "w", "valid": true}}],
           "mark": {"type": "area", "orient": "horizontal", "interpolate": "monotone", "fill": "#FCC8C5", "stroke": "#333333", "strokeWidth": 4.6, "strokeJoin": "round"},
           "encoding": {
             "y": {"field": "y", "type": "quantitative"},
             "x": {"field": "w", "type": "quantitative", "scale": {"domain": [-1, 1]}, "axis": null}
           }},
          {"transform": [{"filter": {"field": "w", "valid": true}}],
           "mark": {"type": "area", "orient": "horizontal", "interpolate": "monotone", "fill": "#FCC8C5", "stroke": "#FCC8C5", "strokeWidth": 1},
           "encoding": {
             "y": {"field": "y", "type": "quantitative"},
             "x": {"field": "w", "type": "quantitative", "scale": {"domain": [-1, 1], "reverse": true}, "axis": null}
           }},
          {"transform": [{"filter": {"field": "w", "valid": true}}],
           "mark": {"type": "area", "orient": "horizontal", "interpolate": "monotone", "fill": "#FCC8C5", "stroke": "#FCC8C5", "strokeWidth": 1},
           "encoding": {
             "y": {"field": "y", "type": "quantitative"},
             "x": {"field": "w", "type": "quantitative", "scale": {"domain": [-1, 1]}, "axis": null}
           }},
          {"transform": [{"filter": {"field": "j", "valid": true}}],
           "mark": {"type": "circle", "size": 44, "fill": "black", "fillOpacity": 0.23, "stroke": "black", "strokeOpacity": 0.15, "strokeWidth": 1},
           "encoding": {
             "y": {"field": "y", "type": "quantitative"},
             "x": {"field": "j", "type": "quantitative", "scale": {"domain": [-0.5, 0.5]}, "axis": {"values": [0], "labels": false, "title": null, "offset": 33}}
           }}
        ]
      }
    },
    {
      "data": {"name": "d"},
      "transform": [{"filter": {"field": "c", "equal": "Ghana"}}],
      "facet": {"column": {"field": "r", "type": "nominal", "title": "Ghana"}},
      "spacing": -0.5,
      "resolve": {"scale": {"x": "independent"}},
      "spec": {
        "width": 79.24, "height": 462,
        "resolve": {"scale": {"x": "independent"}},
        "layer": [
          {"transform": [{"filter": {"field": "w", "valid": true}}],
           "mark": {"type": "area", "orient": "horizontal", "interpolate": "monotone", "fill": "#CBDF99", "stroke": "#333333", "strokeWidth": 4.6, "strokeJoin": "round"},
           "encoding": {
             "y": {"field": "y", "type": "quantitative", "scale": {"domain": [-0.953, 12.0], "nice": false, "zero": false}, "axis": null},
             "x": {"field": "w", "type": "quantitative", "scale": {"domain": [-1, 1], "reverse": true}, "axis": null}
           }},
          {"transform": [{"filter": {"field": "w", "valid": true}}],
           "mark": {"type": "area", "orient": "horizontal", "interpolate": "monotone", "fill": "#CBDF99", "stroke": "#333333", "strokeWidth": 4.6, "strokeJoin": "round"},
           "encoding": {
             "y": {"field": "y", "type": "quantitative"},
             "x": {"field": "w", "type": "quantitative", "scale": {"domain": [-1, 1]}, "axis": null}
           }},
          {"transform": [{"filter": {"field": "w", "valid": true}}],
           "mark": {"type": "area", "orient": "horizontal", "interpolate": "monotone", "fill": "#CBDF99", "stroke": "#CBDF99", "strokeWidth": 1},
           "encoding": {
             "y": {"field": "y", "type": "quantitative"},
             "x": {"field": "w", "type": "quantitative", "scale": {"domain": [-1, 1], "reverse": true}, "axis": null}
           }},
          {"transform": [{"filter": {"field": "w", "valid": true}}],
           "mark": {"type": "area", "orient": "horizontal", "interpolate": "monotone", "fill": "#CBDF99", "stroke": "#CBDF99", "strokeWidth": 1},
           "encoding": {
             "y": {"field": "y", "type": "quantitative"},
             "x": {"field": "w", "type": "quantitative", "scale": {"domain": [-1, 1]}, "axis": null}
           }},
          {"transform": [{"filter": {"field": "j", "valid": true}}],
           "mark": {"type": "circle", "size": 44, "fill": "black", "fillOpacity": 0.23, "stroke": "black", "strokeOpacity": 0.15, "strokeWidth": 1},
           "encoding": {
             "y": {"field": "y", "type": "quantitative"},
             "x": {"field": "j", "type": "quantitative", "scale": {"domain": [-0.5, 0.5]}, "axis": {"values": [0], "labels": false, "title": null, "offset": 33}}
           }}
        ]
      }
    },
    {
      "spacing": -38,
      "hconcat": [
        {
          "data": {"name": "d"},
          "transform": [{"filter": {"field": "c", "equal": "Nigeria"}}],
          "facet": {"column": {"field": "r", "type": "nominal", "title": "Nigeria"}},
          "spacing": -0.5,
          "resolve": {"scale": {"x": "independent"}},
          "spec": {
            "width": 79.24, "height": 462,
            "resolve": {"scale": {"x": "independent"}},
            "layer": [
              {"transform": [{"filter": {"field": "w", "valid": true}}],
               "mark": {"type": "area", "orient": "horizontal", "interpolate": "monotone", "fill": "#99E5E7", "stroke": "#333333", "strokeWidth": 4.6, "strokeJoin": "round"},
               "encoding": {
                 "y": {"field": "y", "type": "quantitative", "scale": {"domain": [-0.953, 12.0], "nice": false, "zero": false}, "axis": null},
                 "x": {"field": "w", "type": "quantitative", "scale": {"domain": [-1, 1], "reverse": true}, "axis": null}
               }},
              {"transform": [{"filter": {"field": "w", "valid": true}}],
               "mark": {"type": "area", "orient": "horizontal", "interpolate": "monotone", "fill": "#99E5E7", "stroke": "#333333", "strokeWidth": 4.6, "strokeJoin": "round"},
               "encoding": {
                 "y": {"field": "y", "type": "quantitative"},
                 "x": {"field": "w", "type": "quantitative", "scale": {"domain": [-1, 1]}, "axis": null}
               }},
              {"transform": [{"filter": {"field": "w", "valid": true}}],
               "mark": {"type": "area", "orient": "horizontal", "interpolate": "monotone", "fill": "#99E5E7", "stroke": "#99E5E7", "strokeWidth": 1},
               "encoding": {
                 "y": {"field": "y", "type": "quantitative"},
                 "x": {"field": "w", "type": "quantitative", "scale": {"domain": [-1, 1], "reverse": true}, "axis": null}
               }},
              {"transform": [{"filter": {"field": "w", "valid": true}}],
               "mark": {"type": "area", "orient": "horizontal", "interpolate": "monotone", "fill": "#99E5E7", "stroke": "#99E5E7", "strokeWidth": 1},
               "encoding": {
                 "y": {"field": "y", "type": "quantitative"},
                 "x": {"field": "w", "type": "quantitative", "scale": {"domain": [-1, 1]}, "axis": null}
               }},
              {"transform": [{"filter": {"field": "j", "valid": true}}],
               "mark": {"type": "circle", "size": 44, "fill": "black", "fillOpacity": 0.23, "stroke": "black", "strokeOpacity": 0.15, "strokeWidth": 1},
               "encoding": {
                 "y": {"field": "y", "type": "quantitative"},
                 "x": {"field": "j", "type": "quantitative", "scale": {"domain": [-0.5, 0.5]}, "axis": {"values": [0], "labels": false, "title": null, "offset": 33}}
               }}
            ]
          }
        },
        {
          "data": {"name": "d"},
          "transform": [{"filter": {"field": "c", "equal": "Cameroon"}}],
          "facet": {"column": {"field": "r", "type": "nominal", "title": "Cameroon", "header": {"titleAnchor": "end"}}},
          "spacing": -0.5,
          "resolve": {"scale": {"x": "independent"}},
          "spec": {
            "width": 79.24, "height": 462,
            "resolve": {"scale": {"x": "independent"}},
            "layer": [
              {"transform": [{"filter": {"field": "w", "valid": true}}],
               "mark": {"type": "area", "orient": "horizontal", "interpolate": "monotone", "fill": "#E9CBFF", "stroke": "#333333", "strokeWidth": 4.6, "strokeJoin": "round"},
               "encoding": {
                 "y": {"field": "y", "type": "quantitative", "scale": {"domain": [-0.953, 12.0], "nice": false, "zero": false}, "axis": null},
                 "x": {"field": "w", "type": "quantitative", "scale": {"domain": [-1, 1], "reverse": true}, "axis": null}
               }},
              {"transform": [{"filter": {"field": "w", "valid": true}}],
               "mark": {"type": "area", "orient": "horizontal", "interpolate": "monotone", "fill": "#E9CBFF", "stroke": "#333333", "strokeWidth": 4.6, "strokeJoin": "round"},
               "encoding": {
                 "y": {"field": "y", "type": "quantitative"},
                 "x": {"field": "w", "type": "quantitative", "scale": {"domain": [-1, 1]}, "axis": null}
               }},
              {"transform": [{"filter": {"field": "w", "valid": true}}],
               "mark": {"type": "area", "orient": "horizontal", "interpolate": "monotone", "fill": "#E9CBFF", "stroke": "#E9CBFF", "strokeWidth": 1},
               "encoding": {
                 "y": {"field": "y", "type": "quantitative"},
                 "x": {"field": "w", "type": "quantitative", "scale": {"domain": [-1, 1], "reverse": true}, "axis": null}
               }},
              {"transform": [{"filter": {"field": "w", "valid": true}}],
               "mark": {"type": "area", "orient": "horizontal", "interpolate": "monotone", "fill": "#E9CBFF", "stroke": "#E9CBFF", "strokeWidth": 1},
               "encoding": {
                 "y": {"field": "y", "type": "quantitative"},
                 "x": {"field": "w", "type": "quantitative", "scale": {"domain": [-1, 1]}, "axis": null}
               }},
              {"transform": [{"filter": {"field": "j", "valid": true}}],
               "mark": {"type": "circle", "size": 44, "fill": "black", "fillOpacity": 0.23, "stroke": "black", "strokeOpacity": 0.15, "strokeWidth": 1},
               "encoding": {
                 "y": {"field": "y", "type": "quantitative"},
                 "x": {"field": "j", "type": "quantitative", "scale": {"domain": [-0.5, 0.5]}, "axis": {"values": [0], "labels": false, "title": null, "offset": 33}}
               }}
            ]
          }
        }
      ]
    }
  ]
}
